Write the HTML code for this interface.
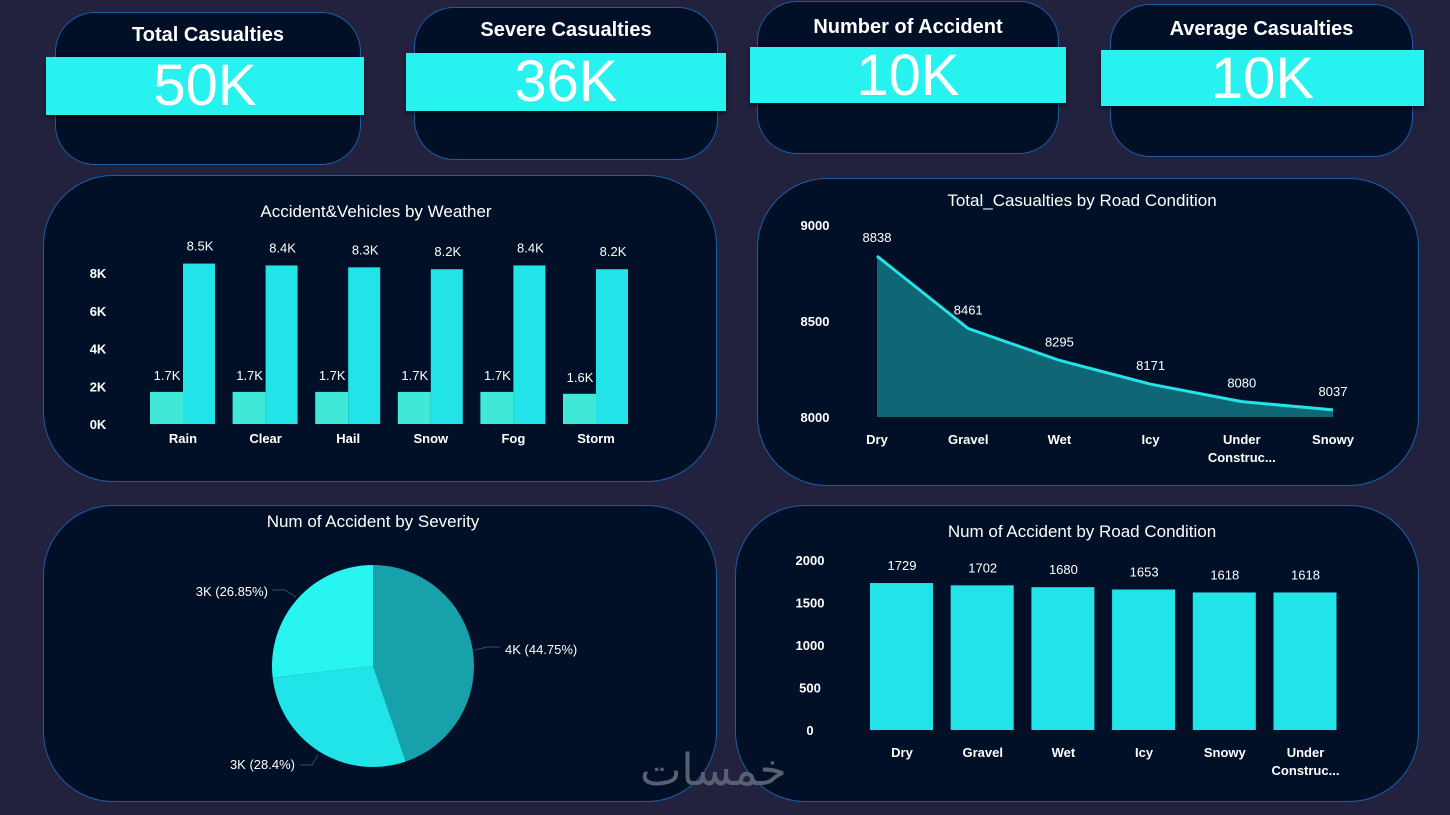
<!DOCTYPE html>
<html><head><meta charset="utf-8">
<style>
body{margin:0;width:1450px;height:815px;background:#22223f;overflow:hidden;font-family:"Liberation Sans","DejaVu Sans",sans-serif;position:relative}
.card{position:absolute;background:#011027;border:1.5px solid #1a5ca8;box-sizing:border-box}
.kt{position:absolute;left:0;right:0;text-align:center;color:#fff;font-weight:bold;font-size:20px}
.band{position:absolute;background:#27f2ef;color:#fff;text-align:center;font-size:58px;line-height:58px;box-shadow:0 3px 4px rgba(0,0,0,.5)}
svg{position:absolute;left:0;top:0}
</style></head><body>
<div class="card" style="left:55px;top:12px;width:306px;height:153px;border-radius:40px"><div class="kt" style="top:11px">Total Casualties</div></div>
<div class="band" style="left:46px;top:57px;width:318px;height:58px">50K</div>
<div class="card" style="left:414px;top:7px;width:304px;height:153px;border-radius:40px"><div class="kt" style="top:11px">Severe Casualties</div></div>
<div class="band" style="left:406px;top:53px;width:320px;height:58px">36K</div>
<div class="card" style="left:757px;top:1px;width:302px;height:153px;border-radius:40px"><div class="kt" style="top:14px">Number of Accident</div></div>
<div class="band" style="left:750px;top:47px;width:316px;height:56px">10K</div>
<div class="card" style="left:1110px;top:4px;width:303px;height:153px;border-radius:40px"><div class="kt" style="top:13px">Average Casualties</div></div>
<div class="band" style="left:1101px;top:50px;width:323px;height:56px">10K</div>

<div class="card" style="left:43px;top:175px;width:674px;height:307px;border-radius:70px"></div>
<div class="card" style="left:757px;top:178px;width:662px;height:308px;border-radius:70px"></div>
<div class="card" style="left:43px;top:505px;width:674px;height:297px;border-radius:70px"></div>
<div class="card" style="left:735px;top:505px;width:684px;height:297px;border-radius:70px"></div>

<svg id="s" width="1450" height="815" xmlns="http://www.w3.org/2000/svg" font-family="Liberation Sans, DejaVu Sans, sans-serif"></svg>
<div style="position:absolute;left:640px;top:745px;font-size:44px;color:#5a6070;font-family:'DejaVu Sans',sans-serif">خمسات</div>
<script>
const weatherCats=["Rain","Clear","Hail","Snow","Fog","Storm"];
const weatherAcc=[1.7,1.7,1.7,1.7,1.7,1.6];
const weatherVeh=[8.5,8.4,8.3,8.2,8.4,8.2];
const weatherTicks=[0,2,4,6,8];
const roadCats=["Dry","Gravel","Wet","Icy","Under Construc...","Snowy"];
const roadCas=[8838,8461,8295,8171,8080,8037];
const roadTicks=[8000,8500,9000];
const sevVals=[44.75,28.4,26.85];
const sevLabels=["4K (44.75%)","3K (28.4%)","3K (26.85%)"];
const accCats=["Dry","Gravel","Wet","Icy","Snowy","Under Construc..."];
const accVals=[1729,1702,1680,1653,1618,1618];
const accTicks=[0,500,1000,1500,2000];

const s=document.getElementById('s');
function el(t,a,txt){const e=document.createElementNS('http://www.w3.org/2000/svg',t);for(const k in a)e.setAttribute(k,a[k]);if(txt!==undefined)e.textContent=txt;s.appendChild(e);return e;}
function title(x,y,t,n){const e=el('text',{x:x,y:y,fill:'#fff','font-size':17,'text-anchor':'middle'},t);

}
function lbl(x,y,t,o){const a=Object.assign({x:x,y:y,fill:'#fff','font-size':13,'text-anchor':'middle'},o||{});return el('text',a,t);}
function multi(x,y,t){const p=t.split(' ');const e=lbl(x,y,p[0],{'font-weight':'bold'});if(p[1])lbl(x,y+18,p[1],{'font-weight':'bold'});return e;}

// Weather
title(376,217,"Accident&Vehicles by Weather","weather-chart-title");
const wy=v=>424-v*18.875, wx=i=>150+i*82.6;
weatherTicks.forEach(t=>{const e=lbl(98,wy(t)+5,t+"K",{'font-weight':'bold'});

});
weatherCats.forEach((c,i)=>{
 const x=wx(i);
 const b1=el('rect',{x:x,y:wy(weatherAcc[i]),width:33,height:424-wy(weatherAcc[i]),fill:'#40e8d8'});
 
 
 const b2=el('rect',{x:x+33,y:wy(weatherVeh[i]),width:32,height:424-wy(weatherVeh[i]),fill:'#22e3e8'});
 
 
 lbl(x+17,wy(weatherAcc[i])-12,weatherAcc[i].toFixed(1)+"K");
 lbl(x+50,wy(weatherVeh[i])-13,weatherVeh[i].toFixed(1)+"K");
 const t=lbl(x+33,443,c,{'font-weight':'bold'});
 
 
});

// Road casualties area
title(1082,206,"Total_Casualties by Road Condition","road-casualties-title");
const ry=v=>417-(v-8000)*0.192, rx=i=>877+i*91.2;
roadTicks.forEach(t=>{const e=lbl(815,ry(t)+5,t,{'font-weight':'bold'});

});
let pts=roadCas.map((v,i)=>rx(i)+","+ry(v)).join(" ");
const ar=el('polygon',{points:rx(0)+","+ry(8000)+" "+pts+" "+rx(roadCas.length-1)+","+ry(8000),fill:'#0f6674'});


const ln=el('polyline',{points:pts,fill:'none',stroke:'#22e3e8','stroke-width':3});


roadCas.forEach((v,i)=>{lbl(rx(i),ry(v)-14,v);
 const t=multi(rx(i),444,roadCats[i]);
 
 });

// Pie
title(373,527,"Num of Accident by Severity","severity-chart-title");
const cx=373,cy=666,r=101,cols=['#17a2ab','#20e4e8','#28f4f0'];
let a0=-Math.PI/2;const tot=sevVals.reduce((a,b)=>a+b,0);
const lp=[[505,654,'start'],[295,769,'end'],[268,596,'end']];
const lead=[[[475,650],[487,647],[500,647]],[[318,755],[312,765],[300,765]],[[296,597],[285,590],[272,590]]];
sevVals.forEach((v,i)=>{
 const a1=a0+v/tot*2*Math.PI;
 const p=el('path',{d:`M${cx},${cy} L${cx+r*Math.cos(a0)},${cy+r*Math.sin(a0)} A${r},${r} 0 ${a1-a0>Math.PI?1:0} 1 ${cx+r*Math.cos(a1)},${cy+r*Math.sin(a1)} Z`,fill:cols[i]});
 
 
 const l=el('polyline',{points:lead[i].map(q=>q.join(',')).join(' '),fill:'none',stroke:'#3a4a66','stroke-width':1});
 
 
 const t=lbl(lp[i][0],lp[i][1],sevLabels[i],{'text-anchor':lp[i][2]});
 
 
 a0=a1;});

// Bottom bars
title(1082,537,"Num of Accident by Road Condition","road-accidents-title");
const by=v=>730-v*0.085, bx=i=>870+i*80.7;
accTicks.forEach(t=>{const e=lbl(810,by(t)+5,t,{'font-weight':'bold'});

});
accVals.forEach((v,i)=>{
 const b=el('rect',{x:bx(i),y:by(v),width:63,height:730-by(v),fill:'#22e3e8'});
 
 
 lbl(bx(i)+32,by(v)-13,v);
 const t=multi(bx(i)+32,757,accCats[i]);
 
 
});
</script>
</body></html>
